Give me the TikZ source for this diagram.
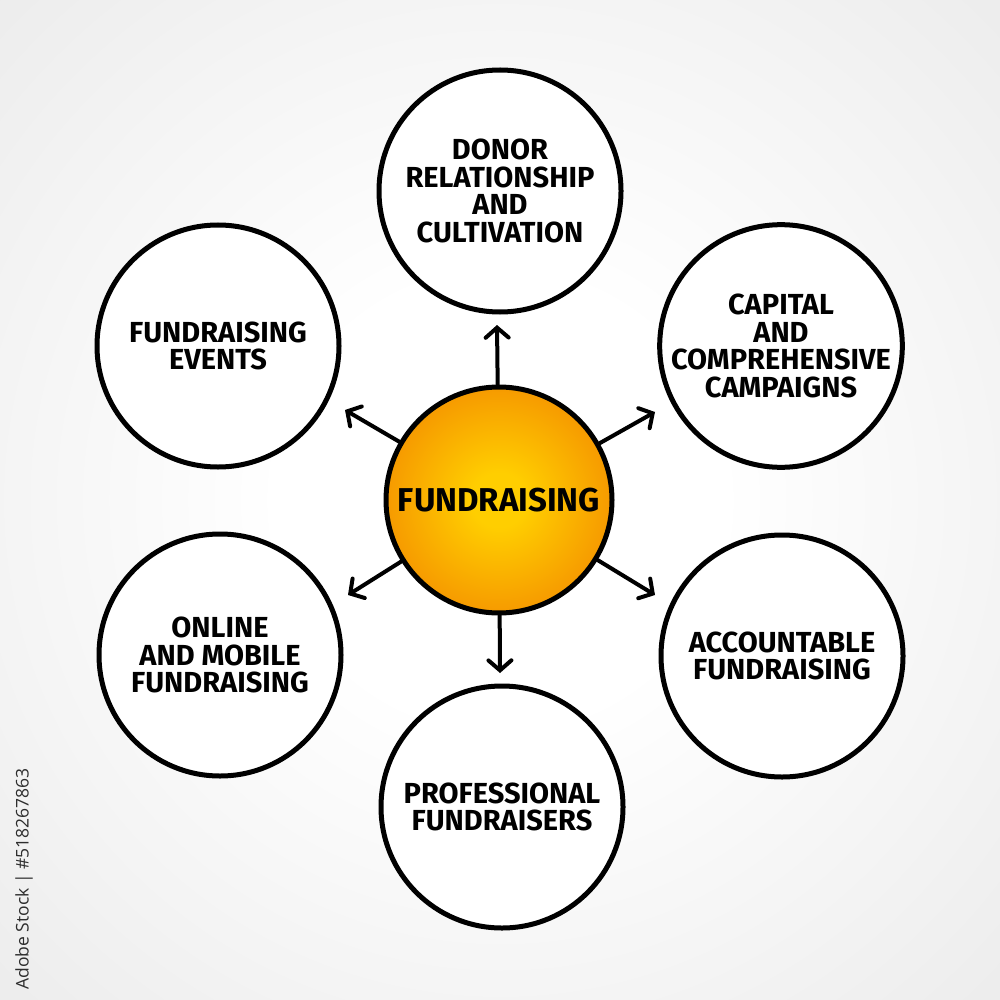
\documentclass[tikz,border=0pt]{standalone}
\usepackage{fontspec}
\setmainfont{Fira Sans}
\newfontfamily\wmfont{Open Sans}
\usetikzlibrary{arrows.meta}
\definecolor{bgedge}{RGB}{236,236,236}
\definecolor{cYel}{RGB}{255,206,0}
\definecolor{cOr}{RGB}{246,154,0}
\definecolor{wmgray}{RGB}{45,45,45}
\pgfdeclareradialshading{bgglow}{\pgfpoint{0bp}{0bp}}{color(0bp)=(white); color(11bp)=(white); color(36bp)=(bgedge); color(50bp)=(bgedge)}
\pgfdeclareradialshading{hubglow}{\pgfpoint{0bp}{0bp}}{color(0bp)=(cYel); color(6bp)=(cYel); color(25bp)=(cOr); color(50bp)=(cOr)}
\begin{document}
\begin{tikzpicture}[x=1pt,y=1pt,
  outer/.style={circle,draw=black,line width=5pt,fill=white,minimum size=242pt,inner sep=0pt,
    align=center,font=\fontsize{29}{27.5}\selectfont\bfseries},
  hub/.style={circle,draw=black,line width=5pt,shading=hubglow,minimum size=226pt,
    inner sep=0pt,font=\fontsize{33}{33}\selectfont\bfseries},
  arr/.style={line width=4pt,line cap=round,-{Straight Barb[length=10pt,width=23pt,line cap=round]}}]
\shade[shading=bgglow] (0,0) rectangle (1000,-1000);
\useasboundingbox (0,0) rectangle (1000,-1000);

\node[hub] (c) at (499,-500) {FUNDRAISING};

\node[outer] (n1) at (500,-191) {DONOR\\RELATIONSHIP\\AND\\CULTIVATION};
\node[outer] (n2) at (781,-346) {CAPITAL\\AND\\COMPREHENSIVE\\CAMPAIGNS};
\node[outer] (n3) at (782,-656) {ACCOUNTABLE\\FUNDRAISING};
\node[outer] (n4) at (502,-807) {PROFESSIONAL\\FUNDRAISERS};
\node[outer] (n5) at (220,-655) {ONLINE\\AND MOBILE\\FUNDRAISING};
\node[outer] (n6) at (218,-346) {FUNDRAISING\\EVENTS};

\coordinate (t1) at (497,-325);
\coordinate (t2) at (655,-412);
\coordinate (t3) at (655,-595);
\coordinate (t4) at (500,-673);
\coordinate (t5) at (348,-595);
\coordinate (t6) at (345,-410);

\foreach \t in {t1,t2,t3,t4,t5,t6}{\draw[arr] (c) -- (\t);}

\node[rotate=90,text=wmgray,font=\wmfont\fontsize{17.5}{17.5}\selectfont,inner sep=0pt] (wm) at (24,-879) {Adobe Stock | \#518267863};
\end{tikzpicture}
\end{document}
